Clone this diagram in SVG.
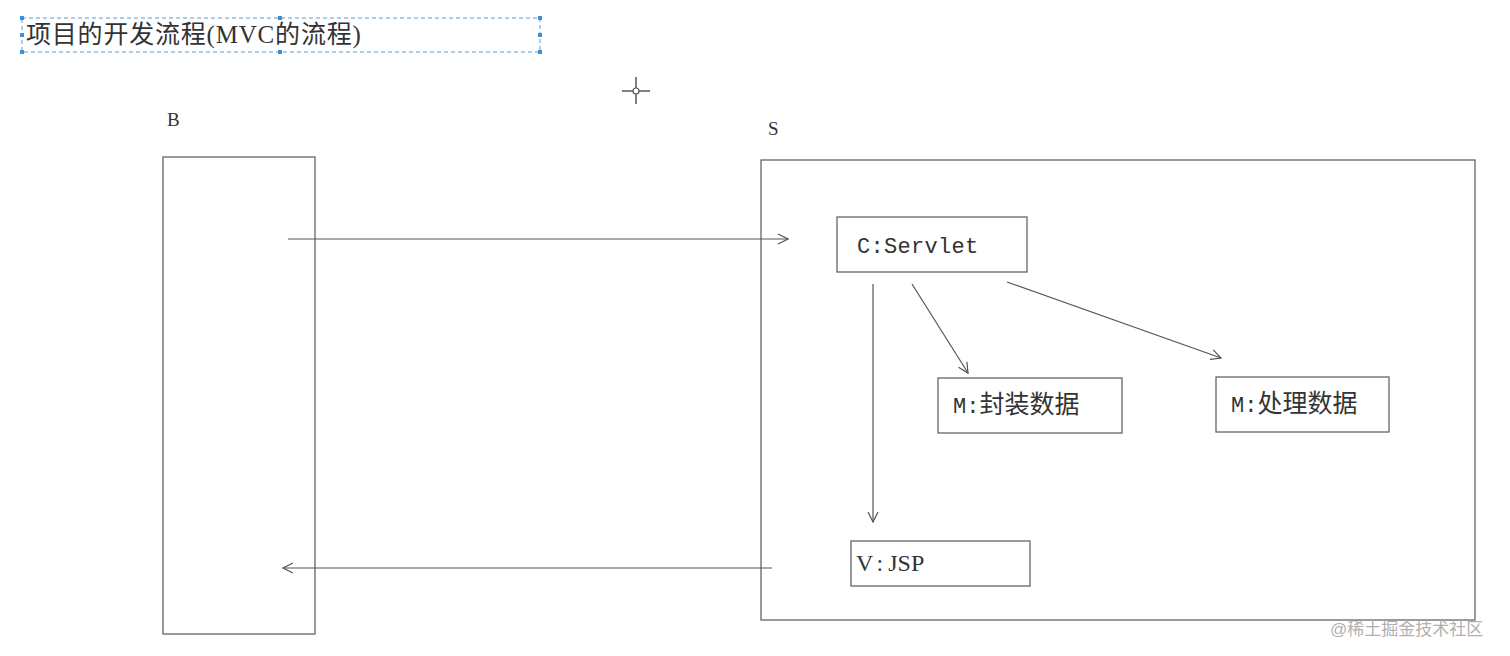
<svg xmlns="http://www.w3.org/2000/svg" width="1510" height="656" viewBox="0 0 1510 656">
<style>
.box{fill:#fff;stroke:#666;stroke-width:1.3}
.line{fill:none;stroke:#555;stroke-width:1.2}
.mono{font-family:"Liberation Mono","Noto Sans CJK SC",monospace;font-size:22px;fill:#333}
.cjk{font-family:"Liberation Serif","Noto Sans CJK SC",serif;font-size:25px;fill:#333}
.ser{font-family:"Liberation Serif","Noto Sans CJK SC",serif;fill:#333}
.handle{fill:#3a8fd8}
</style>
<defs>
<marker id="ah" viewBox="0 0 12 12" refX="11" refY="6" markerWidth="12" markerHeight="12" markerUnits="userSpaceOnUse" orient="auto">
<path d="M1,1 L11,6 L1,11" fill="none" stroke="#555" stroke-width="1.2"/>
</marker>
</defs>
<rect width="1510" height="656" fill="#fff"/>
<g id="title">
<rect x="22" y="18" width="518" height="34" fill="none" stroke="#5b9bd5" stroke-width="1" stroke-dasharray="4,3"/>
<rect class="handle" x="20" y="16" width="4" height="4"/><rect class="handle" x="278" y="16" width="4" height="4"/><rect class="handle" x="538" y="16" width="4" height="4"/>
<rect class="handle" x="20" y="33" width="4" height="4"/><rect class="handle" x="538" y="33" width="4" height="4"/>
<rect class="handle" x="20" y="50" width="4" height="4"/><rect class="handle" x="278" y="50" width="4" height="4"/><rect class="handle" x="538" y="50" width="4" height="4"/>
<text class="cjk" x="26" y="43" font-size="23" letter-spacing="0.8">项目的开发流程(MVC的流程)</text>
</g>
<g id="cursor">
<line x1="622" y1="91" x2="650" y2="91" stroke="#555" stroke-width="1.5"/>
<line x1="636" y1="77" x2="636" y2="104" stroke="#555" stroke-width="1.5"/>
<circle cx="636" cy="91" r="3" fill="#fff" stroke="#555" stroke-width="1.2"/>
</g>
<g id="B">
<text class="ser" x="167" y="126" font-size="19">B</text>
<rect class="box" x="163" y="157" width="152" height="477"/>
</g>
<g id="S">
<text class="ser" x="768" y="135" font-size="19">S</text>
<rect class="box" x="761" y="160" width="714" height="460"/>
</g>
<g id="servlet">
<rect class="box" x="837" y="217" width="190" height="55"/>
<text class="mono" x="857" y="253" letter-spacing="0.3">C:Servlet</text>
</g>
<g id="m1">
<rect class="box" x="938" y="378" width="184" height="55"/>
<text class="cjk" x="953" y="413"><tspan font-family="Liberation Mono" font-size="22">M:</tspan>封装数据</text>
</g>
<g id="m2">
<rect class="box" x="1216" y="377" width="173" height="55"/>
<text class="cjk" x="1231" y="412"><tspan font-family="Liberation Mono" font-size="22">M:</tspan>处理数据</text>
</g>
<g id="jsp">
<rect class="box" x="851" y="541" width="179" height="45"/>
<text class="ser" x="856" y="571" font-size="24">V<tspan dx="5">:</tspan><tspan dx="5">JSP</tspan></text>
</g>
<g id="connectors">
<line class="line" x1="288" y1="239" x2="788" y2="239" marker-end="url(#ah)"/>
<line class="line" x1="873" y1="284" x2="873" y2="522" marker-end="url(#ah)"/>
<line class="line" x1="912" y1="284" x2="968" y2="373" marker-end="url(#ah)"/>
<line class="line" x1="1007" y1="282" x2="1221" y2="358" marker-end="url(#ah)"/>
<line class="line" x1="772" y1="568" x2="283" y2="568" marker-end="url(#ah)"/>
</g>
<text x="1330" y="635" font-family="Liberation Sans,'Noto Sans CJK SC',sans-serif" font-size="17" fill="#b0b0b0">@稀土掘金技术社区</text>
</svg>
